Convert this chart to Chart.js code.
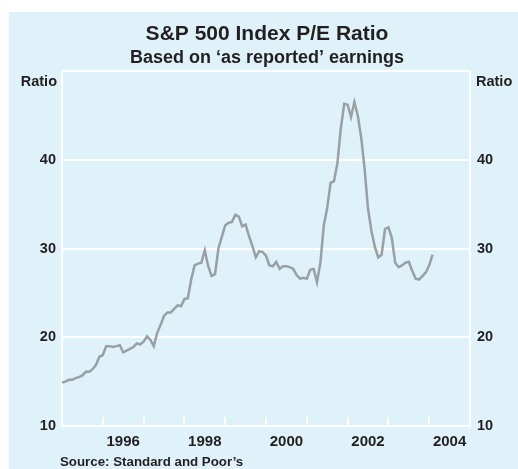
<!DOCTYPE html>
<html>
<head>
<meta charset="utf-8">
<script src="https://cdn.jsdelivr.net/npm/chart.js@4.4.1/dist/chart.umd.min.js"></script>
<style>
  html, body { margin: 0; padding: 0; background: #fff; }
  #wrap { width: 518px; height: 469px; }
</style>
</head>
<body>
<div id="wrap"><canvas id="peChart" width="518" height="469"></canvas></div>
<script>
// monthly P/E, Jan 1995 .. Feb 2004
const startYear = 1995;
const peRatio = [
  14.9, 15.0, 15.2, 15.2, 15.4, 15.5, 15.7, 16.1, 16.1, 16.4, 16.9, 17.8,
  18.0, 19.0, 19.0, 18.9, 19.0, 19.1, 18.3, 18.5, 18.7, 18.9, 19.3, 19.2,
  19.5, 20.1, 19.7, 19.0, 20.5, 21.4, 22.4, 22.8, 22.8, 23.2, 23.6, 23.5,
  24.3, 24.4, 26.5, 28.1, 28.3, 28.4, 29.8, 28.0, 26.9, 27.1, 30.0, 31.3,
  32.6, 32.9, 33.0, 33.8, 33.6, 32.5, 32.7, 31.4, 30.3, 29.0, 29.7, 29.6,
  29.2, 28.1, 28.0, 28.5, 27.7, 28.0, 28.0, 27.9, 27.7, 27.0, 26.6, 26.7,
  26.6, 27.6, 27.7, 26.2, 28.4, 32.6, 34.6, 37.4, 37.6, 39.6, 43.5, 46.3,
  46.2, 44.8, 46.5, 45.0, 42.5, 39.0, 34.5, 32.0, 30.2, 29.0, 29.3, 32.2,
  32.4, 31.2, 28.4, 27.9, 28.1, 28.4, 28.5, 27.5, 26.6, 26.5, 26.9, 27.3,
  28.1, 29.3
];
const yearTicks = [1996, 1997, 1998, 1999, 2000, 2001, 2002, 2003, 2004];
const yearLabels = [1996, 1998, 2000, 2002, 2004];
const titleText = 'S&P 500 Index P/E Ratio';
const subtitleText = 'Based on \u2018as reported\u2019 earnings';
const unitText = 'Ratio';
const sourceText = 'Source: Standard and Poor\u2019s';

const BG = '#dff2fa';
const INK = '#231f20';
const FONT = '"Liberation Sans", Arial, Helvetica, sans-serif';

const points = peRatio.map((v, i) => ({ x: startYear + i / 12, y: v }));

const rbaDecor = {
  id: 'rbaDecor',
  beforeDraw(chart) {
    const ctx = chart.ctx;
    ctx.save();
    ctx.fillStyle = '#fff';
    ctx.fillRect(0, 0, chart.width, chart.height);
    ctx.fillStyle = BG;
    ctx.fillRect(9, 12, chart.width - 9, chart.height - 12);
    ctx.restore();
  },
  beforeDatasetsDraw(chart) {
    const { ctx, chartArea: a, scales } = chart;
    ctx.save();
    ctx.strokeStyle = '#fff';
    ctx.lineWidth = 2;
    ctx.strokeRect(a.left, a.top, a.right - a.left, a.bottom - a.top);
    ctx.beginPath();
    yearTicks.forEach(y => {
      const px = Math.round(scales.x.getPixelForValue(y));
      ctx.moveTo(px, a.bottom);
      ctx.lineTo(px, a.bottom - 9);
    });
    ctx.stroke();
    ctx.restore();
  },
  afterDraw(chart) {
    const { ctx, chartArea: a, scales } = chart;
    ctx.save();
    ctx.fillStyle = INK;
    ctx.textAlign = 'center';
    ctx.textBaseline = 'alphabetic';
    ctx.font = 'bold 21px ' + FONT;
    ctx.fillText(titleText, 267, 40);
    ctx.font = 'bold 18px ' + FONT;
    ctx.fillText(subtitleText, 267, 63);

    ctx.font = 'bold 14.5px ' + FONT;
    ctx.textAlign = 'right';
    ctx.fillText(unitText, a.left - 5, 86);
    ctx.textAlign = 'left';
    ctx.fillText(unitText, a.right + 6, 86);

    ctx.font = 'bold 15px ' + FONT;
    ctx.textAlign = 'center';
    yearLabels.forEach(y => {
      ctx.fillText(String(y), scales.x.getPixelForValue(y + 0.5), 446);
    });

    ctx.font = 'bold 13.3px ' + FONT;
    ctx.textAlign = 'left';
    ctx.fillText(sourceText, 60, 466);
    ctx.restore();
  }
};

const yTicks = {
  color: INK,
  font: { family: FONT, size: 14.5, weight: 'bold' },
  stepSize: 10,
  callback: v => (v === 50 ? '' : v)
};

new Chart(document.getElementById('peChart'), {
  type: 'line',
  data: {
    datasets: [{
      data: points,
      borderColor: '#98a0a5',
      borderWidth: 2.5,
      pointRadius: 0,
      tension: 0,
      fill: false
    }]
  },
  options: {
    responsive: false,
    animation: false,
    devicePixelRatio: 1,
    layout: { padding: { top: 71, left: 0, right: 0, bottom: 0 } },
    plugins: { legend: { display: false }, title: { display: false }, tooltip: { enabled: false } },
    scales: {
      x: {
        type: 'linear', min: 1995, max: 2005,
        ticks: { display: false },
        grid: { display: false },
        border: { display: false },
        afterFit: s => { s.height = 43; }
      },
      y: {
        position: 'left', min: 10, max: 50,
        ticks: { ...yTicks, padding: 6 },
        grid: { color: '#fff', lineWidth: 2, drawTicks: false },
        border: { display: false },
        afterFit: s => { s.width = 62; }
      },
      y2: {
        position: 'right', min: 10, max: 50,
        ticks: { ...yTicks, padding: 7 },
        grid: { display: false, drawTicks: false },
        border: { display: false },
        afterFit: s => { s.width = 48; }
      }
    }
  },
  plugins: [rbaDecor]
});
</script>
</body>
</html>
